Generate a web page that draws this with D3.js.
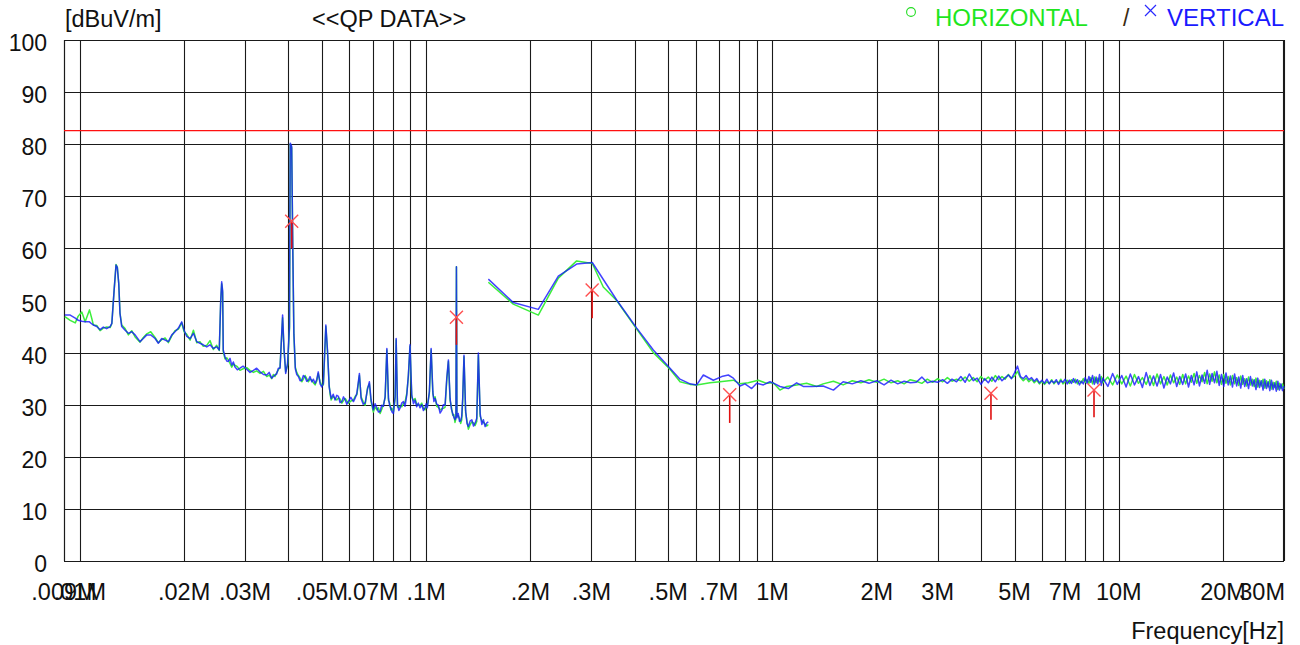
<!DOCTYPE html>
<html><head><meta charset="utf-8">
<script src="https://cdn.jsdelivr.net/npm/d3@7"></script>
<style>
html,body{margin:0;padding:0;background:#fff;}
svg{display:block;}
text{font-family:"Liberation Sans", Arial, sans-serif;}
</style></head><body>
<svg id="chart" width="1300" height="645"></svg>
<script>
// ---- Radiated emission scan, QP data (frequency in kHz, level in dBuV/m) ----

// Loop-antenna band (9 kHz - 150 kHz), both polarisations share the sweep points
const freqLow = [9.05,9.38,9.70,9.89,10.13,10.36,10.66,10.83,10.94,11.19,11.44,11.69,11.95,12.23,12.37,12.56,12.72,12.83,12.95,13.06,13.21,13.51,13.81,14.12,14.44,14.92,15.25,15.61,16.02,16.49,16.85,17.24,17.63,18.01,18.43,18.83,19.26,19.69,20.0,20.36,20.82,21.28,21.76,22.22,22.72,23.25,23.76,24.29,24.84,25.27,25.51,25.68,25.84,25.95,
  26.25,26.55,26.84,27.15,27.45,27.75,28.03,28.5,29.0,29.6,30.33,31.0,31.71,32.4,33.15,33.9,34.65,35.2,35.81,36.2,36.6,37.0,37.43,37.85,38.5,38.85,39.3,39.8,40.3,40.5,40.9,41.2,41.5,41.9,
  42.3,42.77,43.25,43.74,44.2,44.72,45.2,45.7,46.2,46.75,47.25,47.78,48.3,48.8,49.4,49.94,50.49,51.33,51.89,52.48,52.8,53.18,53.9,54.58,55.2,55.8,56.4,57.1,57.7,58.4,59.0,59.6,60.6,61.67,62.4,63.08,64.17,64.88,65.8,66.65,67.68,68.57,69.33,
  70.39,71.2,72.04,72.8,73.64,74.4,75.26,76.13,77.01,77.84,78.4,79.07,79.7,80.44,81.37,81.92,82.64,83.4,84.12,85.0,85.98,86.9,87.93,88.85,89.83,90.86,91.9,92.9,93.9,94.94,96.0,97.12,98.2,99.23,100.0,100.77,
  102.17,103.36,104.55,105.3,106.15,107.3,108.5,109.7,110.92,112.1,113.4,114.7,115.95,117.25,118.3,119.3,120.2,121.13,121.9,122.3,122.7,123.8,124.8,125.78,126.7,127.5,128.6,130.0,131.2,132.4,134.0,135.5,137.0,138.5,140.0,141.5,143.2,144.8,146.3,148.0,149.6,151.2];
const vertLow = [47.2,47.2,46.6,46.2,46.0,45.9,45.9,45.5,45.3,45.0,44.4,44.9,44.6,45.0,45.6,52.0,56.8,56.3,53.3,47.5,45.0,44.3,43.7,44.0,43.4,42.1,42.7,43.4,43.4,42.7,41.8,42.7,42.4,42.1,43.4,44.0,44.7,45.9,44.3,43.1,42.7,43.7,42.1,41.8,41.5,41.1,41.5,40.8,41.1,40.5,50.0,53.6,51.9,40.5,
  39.2,38.4,38.3,38.9,37.6,38.2,37.3,36.7,37.0,37.4,36.8,36.2,36.6,37.0,36.3,35.8,35.7,36.2,35.1,35.4,35.7,35.9,37.0,37.0,47.2,41.0,36.0,38.0,45.0,80.2,79.6,60.0,43.7,36.9,
  35.8,35.4,34.6,34.7,35.6,35.3,34.5,34.7,35.4,34.4,34.9,34.1,34.8,36.3,34.0,33.4,34.1,45.3,40.5,33.4,32.4,31.2,32.0,30.9,31.8,31.6,30.4,30.6,31.5,30.9,30.1,30.6,31.4,30.6,31.3,32.2,36.0,31.2,30.1,30.3,32.9,34.4,30.9,
  29.0,30.2,29.4,28.6,28.7,29.9,29.7,31.6,40.8,31.2,29.9,29.4,28.6,28.3,31.6,42.7,30.0,28.9,29.4,30.3,30.6,29.7,31.9,35.7,41.5,31.9,30.2,30.9,29.6,30.3,29.4,30.0,28.9,29.4,30.2,29.4,
  32.5,40.8,32.5,30.6,31.2,30.1,29.9,28.4,28.9,30.0,29.9,35.1,38.6,31.2,29.1,28.3,27.6,27.1,27.8,56.5,27.5,28.3,26.8,26.9,27.8,31.2,39.5,28.9,26.4,25.8,26.9,27.1,25.9,26.5,27.4,39.9,28.3,26.2,27.1,25.8,26.5,26.7];
const horzLow = [46.9,46.2,45.7,47.0,47.8,45.9,48.2,46.5,45.3,45.2,44.2,44.7,44.9,44.8,45.6,52.0,56.9,56.4,53.3,47.6,45.3,44.6,43.4,44.2,43.0,42.0,42.9,43.6,44.0,42.9,41.9,42.5,42.8,41.9,43.2,44.2,44.5,45.7,44.0,43.5,42.4,44.3,41.9,42.1,41.2,41.4,42.3,40.6,41.4,40.4,49.5,53.2,51.5,40.2,
  38.8,39.0,38.6,37.9,37.2,37.8,37.6,37.3,36.6,36.9,37.1,36.6,36.2,36.5,36.0,36.4,35.4,35.7,35.0,35.8,35.4,36.1,36.7,37.2,46.7,40.7,36.3,37.6,44.6,80.0,79.3,59.7,43.4,37.2,
  36.2,35.6,35.1,34.4,34.9,35.6,35.0,34.4,34.9,34.7,34.2,33.8,34.5,36.0,34.4,33.7,33.8,45.0,40.2,33.7,32.0,30.9,31.6,31.2,30.9,31.3,31.1,30.3,30.8,31.2,30.7,30.3,30.7,30.9,31.6,31.9,35.6,31.5,30.6,29.9,33.2,34.0,30.6,
  28.6,29.6,29.0,29.4,28.3,29.1,30.0,31.3,40.5,30.8,30.4,29.0,29.3,28.6,31.3,42.4,29.6,29.5,29.7,29.6,30.2,30.5,32.2,35.4,41.2,31.5,30.8,31.2,30.1,29.9,29.9,30.3,29.4,29.0,29.6,29.7,
  32.2,40.5,32.1,31.2,31.5,29.7,29.5,29.0,29.2,29.3,29.5,34.8,38.3,30.8,29.6,28.0,28.1,26.6,27.3,56.5,27.9,27.9,27.4,26.4,27.1,30.8,39.2,28.5,26.9,25.3,26.2,26.7,26.5,26.0,26.8,39.5,27.8,26.9,26.6,26.3,25.9,26.2];

// Antenna band 150 kHz - 1.4 MHz (coarse steps, separate per polarisation)
const freqMidV = [151.2,178.5,210.8,240.8,272,301.8,354.9,405.6,452.9,506,540.8,578,604.4,631.5,674.9,713.6,745.6,770.8,805.9,833.1,871,900.6,941,983.5,1016.8,1051,1111,1174.5,1227,1298];
const vertMid = [54.1,49.6,48.3,54.7,57.0,57.3,50.1,44.7,40.5,37.0,34.9,34.0,33.8,35.7,34.7,35.4,35.7,35.1,33.6,34.0,33.1,34.1,33.8,34.4,34.0,33.5,33.1,34.2,33.5,33.5];
const freqMidH = [151.2,178.5,210.8,240.8,272,301.8,324.7,354.9,405.6,452.9,506,540.8,578,604.4,660.3,705.6,770.8,805.9,851.6,910.2,962.6,1005,1051,1099,1174.5,1255,1342];
const horzMid = [53.5,49.3,47.2,54.3,57.6,57.1,52.6,50.0,44.5,40.0,36.8,34.4,33.9,33.8,34.2,34.4,34.7,34.0,34.2,34.7,34.1,34.2,32.8,33.5,33.8,34.1,33.5];

// 1.4 MHz - 9 MHz sweep
const freqSweep1 = [1400,1500,1600,1700,1800,1900,2000,2100,2200,2300,2400,2500,2600,2700,2800,2900,3000,3100,3200,3300,3400,3500,3600,3700,3800,3900,4000,4100,4200,4300,4400,4500,4600,4700,4800,4900,5000,5100,5200,5300,5400,5500,5600,5700,5800,5900,6000,6100,6200,6300,6400,6500,6600,6700,6800,6900,7000,7100,7200,7300,7400,7500,7600,7700,7800,7900,8000,8100,8200,8300,8400,8500,8600,8700,8800,8900,9000];
const vertSweep1 = [33.6,32.8,34.4,34.0,34.6,34.1,34.6,33.8,34.7,34.0,34.5,34.2,34.3,35.3,34.2,34.5,34.3,34.8,34.1,34.9,34.4,35.4,34.3,35.9,34.6,35.1,33.9,35.0,34.2,35.3,34.4,35.5,34.6,35.2,35.7,35.0,36.1,37.4,35.4,35.0,35.6,34.8,35.2,34.5,35.0,34.2,34.7,34.1,34.9,34.0,34.6,34.2,34.8,33.9,34.6,34.3,34.9,34.0,34.7,34.1,35.0,34.2,34.8,33.8,34.5,34.0,35.2,34.1,35.4,34.3,35.6,33.9,35.3,34.0,35.8,33.7,35.1];
const horzSweep1 = [34.0,34.5,33.8,34.6,34.2,34.8,34.3,34.9,34.2,34.6,34.0,34.8,34.5,34.1,34.9,34.3,35.0,34.4,35.2,34.5,34.9,34.6,35.3,34.5,35.2,34.4,35.4,34.7,35.3,34.5,35.6,34.8,35.4,34.9,35.8,35.1,35.5,36.4,35.2,34.6,35.1,34.4,34.9,34.2,34.7,34.0,34.5,33.9,34.4,34.1,34.8,34.0,34.5,34.2,34.9,34.0,34.4,34.7,34.1,34.8,34.3,34.9,34.0,34.6,34.2,35.0,34.3,34.8,34.1,35.2,34.0,35.3,34.2,35.1,34.4,35.4,34.2];

// 9.3 MHz - 30 MHz sweep
const freqSweep2 = [9300,9600,9900,10200,10500,10800,11100,11400,11700,12000,12300,12600,12900,13200,13500,13800,14100,14400,14700,15000,15300,15600,15900,16200,16500,16800,17100,17400,17700,18000,18300,18600,18900,19200,19500,19800,20100,20400,20700,21000,21300,21600,21900,22200,22500,22800,23100,23400,23700,24000,24300,24600,24900,25200,25500,25800,26100,26400,26700,27000,27300,27600,27900,28200,28500,28800,29100,29400,29700,30000];
const vertSweep2 = [33.5,36.0,33.9,35.6,33.4,35.9,33.8,35.4,33.3,36.2,33.7,35.5,33.6,35.8,33.2,35.3,34.0,36.1,33.5,35.4,33.9,35.9,33.4,35.6,33.8,36.3,33.6,35.7,34.1,36.6,33.9,36.0,34.2,36.4,33.7,35.8,33.5,36.1,33.8,35.5,33.4,35.9,33.6,35.3,33.2,35.6,33.5,35.0,33.1,35.4,33.6,34.8,32.9,35.1,33.3,34.6,32.8,34.9,33.1,34.4,32.7,34.7,32.9,34.2,32.6,34.5,32.8,34.0,32.7,33.6];
const horzSweep2 = [35.3,33.8,35.7,34.0,35.5,33.6,35.8,34.1,35.2,33.9,35.6,33.7,35.9,34.0,35.4,33.8,35.7,34.2,35.3,33.9,35.8,34.0,35.5,34.3,36.0,34.1,35.6,34.4,36.2,34.0,35.9,34.5,36.3,34.2,35.7,33.9,35.8,34.1,35.4,33.8,35.6,34.0,35.2,33.7,35.5,33.9,35.0,33.6,35.3,33.8,34.9,33.5,35.1,33.4,34.7,33.6,34.9,33.2,34.6,33.4,34.8,33.0,34.3,33.3,34.5,32.9,34.1,33.1,34.0,33.0];

// Final QP measurement points (marker level and lower end of its stem)
const qpFreq = [40.9, 122.3, 301.5, 752.6, 4275, 8482];
const qpLevel = [65.2, 46.8, 52.0, 31.9, 32.2, 32.8];
const qpStemEnd = [60.0, 41.5, 46.6, 26.5, 27.1, 27.6];

// Limit line
const limitLevel = 82.6;

// Axis labels
const yTicks = [0,10,20,30,40,50,60,70,80,90,100];
const xTickFreqs = [9,10,20,30,50,70,100,200,300,500,700,1000,2000,3000,5000,7000,10000,20000,30000];
const xTickLabels = [".009M",".01M",".02M",".03M",".05M",".07M",".1M",".2M",".3M",".5M",".7M","1M","2M","3M","5M","7M","10M","20M","30M"];

// ---- drawing ----
const svg = d3.select("#chart");
const L = 64, R = 1284, T = 40, B = 561;
const x = d3.scaleLog().domain([9, 30000]).range([L, R]);
const y = d3.scaleLinear().domain([0, 100]).range([B, T]);

const gridColor = "#1a1a1a";
const grid = svg.append("g").attr("stroke", gridColor).attr("stroke-width", 1.1);
const vLines = x.ticks().filter(f => f >= 9 && f <= 30000);
vLines.forEach(f => {
  const px = Math.round(x(f)) + 0.5;
  grid.append("line").attr("x1", px).attr("x2", px).attr("y1", T).attr("y2", B);
});
yTicks.forEach(v => {
  const py = Math.round(y(v)) + 0.5;
  grid.append("line").attr("x1", L).attr("x2", R).attr("y1", py).attr("y2", py);
});
grid.append("line").attr("x1", L + 0.5).attr("x2", L + 0.5).attr("y1", T).attr("y2", B);
grid.append("line").attr("x1", R - 0.5).attr("x2", R - 0.5).attr("y1", T).attr("y2", B);

// limit line
svg.append("line").attr("x1", L).attr("x2", R)
  .attr("y1", y(limitLevel)).attr("y2", y(limitLevel))
  .attr("stroke", "#ff1010").attr("stroke-width", 1.2);

// y tick labels
svg.append("g").selectAll("text").data(yTicks).join("text")
  .attr("x", 47).attr("y", d => y(d) + 11)
  .attr("text-anchor", "end").attr("font-size", 23).attr("fill", "#111")
  .text(d => d);

// x tick labels (the last one is kept inside the plot's right edge)
const last = xTickFreqs.length - 1;
svg.append("g").selectAll("text").data(xTickFreqs).join("text")
  .attr("x", (d, i) => i === last ? R + 1 : x(d)).attr("y", 600)
  .attr("text-anchor", (d, i) => i === last ? "end" : "middle")
  .attr("font-size", 23.5).attr("fill", "#111")
  .text((d, i) => xTickLabels[i]);

// headers
svg.append("text").attr("x", 65).attr("y", 27).attr("font-size", 23.5).attr("fill", "#111").text("[dBuV/m]");
svg.append("text").attr("x", 312).attr("y", 27).attr("font-size", 23.5).attr("fill", "#111").text("<<QP DATA>>");
svg.append("text").attr("x", 1284).attr("y", 639).attr("text-anchor", "end").attr("font-size", 23.5).attr("fill", "#111").text("Frequency[Hz]");

// legend
svg.append("circle").attr("cx", 911).attr("cy", 12).attr("r", 4.4)
  .attr("fill", "none").attr("stroke", "#22dd22").attr("stroke-width", 1.1);
svg.append("text").attr("x", 935).attr("y", 26).attr("font-size", 24).attr("fill", "#1ee61e").text("HORIZONTAL");
svg.append("text").attr("x", 1123).attr("y", 26).attr("font-size", 23).attr("fill", "#3a2a10").text("/");
svg.append("path").attr("d", "M1145,5L1156,16M1156,5L1145,16")
  .attr("stroke", "#2a2aff").attr("stroke-width", 1.2).attr("fill", "none");
svg.append("text").attr("x", 1284).attr("y", 26).attr("text-anchor", "end").attr("font-size", 24).attr("fill", "#1a1aff").text("VERTICAL");

// traces
const line = d3.line().x(d => x(d[0])).y(d => y(d[1]));
const zip = (f, v) => f.map((d, i) => [d, v[i]]);

const horzA = zip(freqLow, horzLow);
const horzB = zip(freqMidH.concat(freqSweep1, freqSweep2), horzMid.concat(horzSweep1, horzSweep2));
const vertA = zip(freqLow, vertLow);
const vertB = zip(freqMidV.concat(freqSweep1, freqSweep2), vertMid.concat(vertSweep1, vertSweep2));

const traces = svg.append("g").attr("fill", "none").attr("stroke-linejoin", "round");
[horzA, horzB].forEach(d => traces.append("path").attr("d", line(d))
  .attr("stroke", "#3cee3c").attr("stroke-width", 1.5));
[vertA, vertB].forEach(d => traces.append("path").attr("d", line(d))
  .attr("stroke", "#1414ff").attr("stroke-width", 1.5).attr("stroke-opacity", 0.8));

// QP markers: stem plus cross
const qp = svg.append("g");
qpFreq.forEach((f, i) => {
  const px = x(f), py = y(qpLevel[i]);
  qp.append("line").attr("x1", px).attr("x2", px).attr("y1", py).attr("y2", y(qpStemEnd[i]))
    .attr("stroke", "#e01010").attr("stroke-width", 1.6);
  const h = 6.5;
  qp.append("path").attr("d", `M${px - h},${py - h}L${px + h},${py + h}M${px + h},${py - h}L${px - h},${py + h}`)
    .attr("stroke", "#ff5050").attr("stroke-width", 1.4).attr("fill", "none");
});
</script></body></html>
